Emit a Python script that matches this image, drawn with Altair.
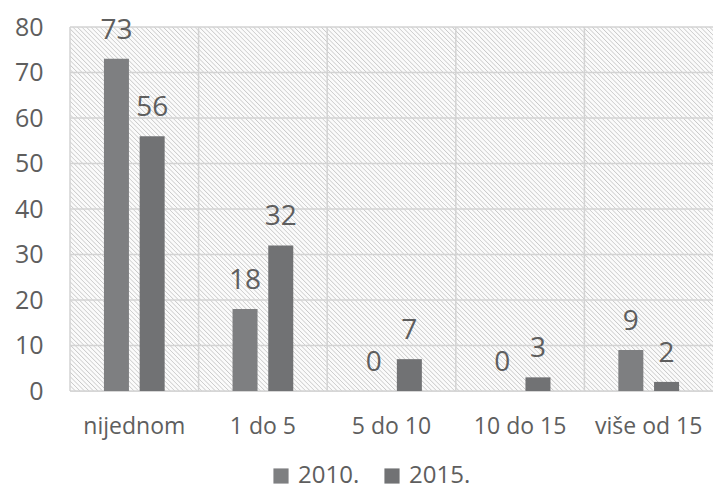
import altair as alt
import pandas as pd

# ---- data ----
categories = ["nijednom", "1 do 5", "5 do 10", "10 do 15", "više od 15"]
years = ["2010.", "2015."]
values_2010 = [73, 18, 0, 0, 9]
values_2015 = [56, 32, 7, 3, 2]
y_ticks = [0, 10, 20, 30, 40, 50, 60, 70, 80]
bar_colors = ["#7e7f81", "#717274"]

rows = []
for c, a, b in zip(categories, values_2010, values_2015):
    rows.append({"cat": c, "year": years[0], "v": a})
    rows.append({"cat": c, "year": years[1], "v": b})
df = pd.DataFrame(rows)

W, H = 643, 364
TEXT = "#5e5e5e"
FONT = "Open Sans"

# hatched plot background, built as a striped linear gradient
r = H / W
s = (1 + r) / (1 + r * r)
N = 223
light, dark = "#fbfbfb", "#c9c9c9"
stops = []
for k in range(N):
    stops.append(alt.GradientStop(offset=k / N, color=light))
    stops.append(alt.GradientStop(offset=(k + 0.2) / N, color=dark))
    stops.append(alt.GradientStop(offset=(k + 0.45) / N, color=light))
stops.append(alt.GradientStop(offset=1.0, color=light))
hatch = alt.LinearGradient(gradient="linear", stops=stops,
                           x1=0, y1=1, x2=s, y2=1 - s * r)

x_scale = alt.Scale(domain=categories, paddingInner=0, paddingOuter=0)
y_scale = alt.Scale(domain=[0, 80], nice=False)
off_scale = alt.Scale(paddingInner=0.3, paddingOuter=0.95)

x_axis = alt.Axis(labelAngle=0, labelAlign="center", bandPosition=0.5,
                  labelFontSize=23, labelColor=TEXT, labelFont=FONT,
                  labelPadding=24, domain=False, ticks=False, grid=False)
y_axis = alt.Axis(values=y_ticks, labelFontSize=25, labelColor=TEXT,
                  labelFont=FONT, labelPadding=27, domain=False,
                  ticks=False, grid=False)

def X(**kw):
    return alt.X("cat:N", sort=categories, scale=x_scale, title=None,
                 axis=x_axis, **kw)

def Y():
    return alt.Y("v:Q", scale=y_scale, title=None, axis=y_axis)

background = alt.Chart(alt.Data(values=[{}])).mark_rect(
    color=hatch, strokeWidth=0
).encode(
    x=alt.value(0), x2=alt.value("width"),
    y=alt.value(0), y2=alt.value("height"),
)

hgrid = alt.Chart(pd.DataFrame({"v": y_ticks})).mark_rule(
    color="#d3d3d3", strokeWidth=1.5
).encode(y=Y())

vgrid = alt.Chart(pd.DataFrame({"cat": categories})).mark_rule(
    color="#d3d3d3", strokeWidth=1.5
).encode(x=X(bandPosition=0))

bars = alt.Chart(df).mark_bar().encode(
    x=X(),
    xOffset=alt.XOffset("year:N", sort=years, scale=off_scale),
    y=Y(),
    color=alt.Color("year:N", sort=years,
                    scale=alt.Scale(domain=years, range=bar_colors),
                    legend=alt.Legend(orient="none", direction="horizontal",
                                      legendX=199, legendY=437, title=None,
                                      symbolType="square", symbolSize=230,
                                      symbolStrokeWidth=0, labelFontSize=24,
                                      labelColor=TEXT, labelFont=FONT,
                                      columnPadding=20, labelOffset=5,
                                      padding=0)),
)

labels = alt.Chart(df).mark_text(
    baseline="alphabetic", dy=-20, fontSize=28, color=TEXT, font=FONT
).encode(
    x=X(),
    xOffset=alt.XOffset("year:N", sort=years, scale=off_scale),
    y=Y(),
    text=alt.Text("v:Q"),
)

chart = alt.layer(background, hgrid, vgrid, bars, labels).properties(
    width=W, height=H,
    autosize=alt.AutoSizeParams(type="none"),
    padding={"left": 62, "top": 19, "right": 0, "bottom": 98},
).configure_view(stroke=None).configure(font=FONT)

chart.save("out.html", embed_options={"renderer": "svg", "actions": False})
